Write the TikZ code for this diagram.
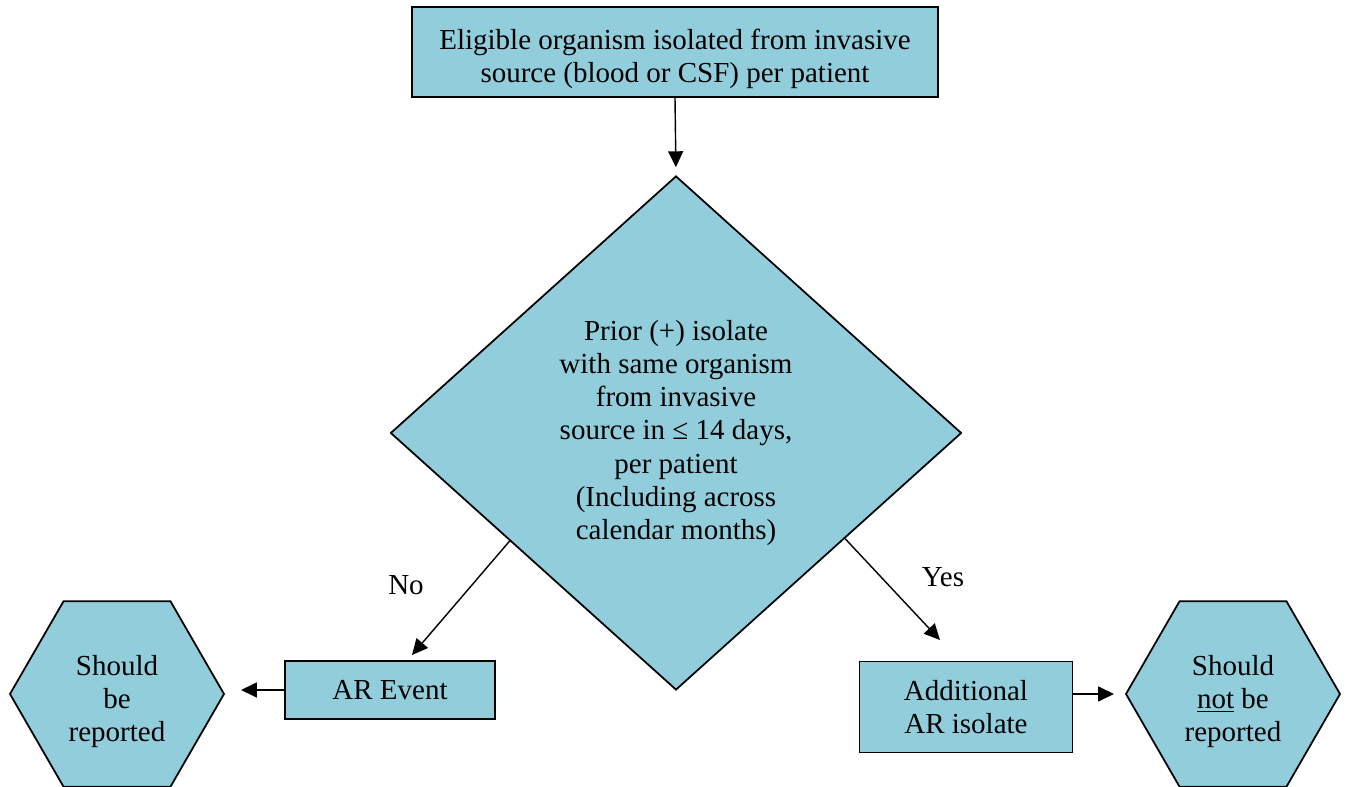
\documentclass[tikz,border=0pt]{standalone}
\usepackage{fontspec}
\setmainfont{Liberation Serif}
\usetikzlibrary{shapes.geometric, arrows.meta}
\definecolor{aquafill}{RGB}{146,205,220}
\begin{document}
\begin{tikzpicture}[every node/.style={font=\fontsize{16.5}{18.8}\selectfont},
    stepbox/.style={draw, line width=1pt, fill=aquafill, align=center, inner sep=0pt},
    choice/.style={diamond, draw, line width=1pt, fill=aquafill, align=center, inner sep=0pt,
        minimum width=11.42cm, minimum height=10.28cm},
    verdict/.style={regular polygon, regular polygon sides=6, draw, line width=1pt, fill=aquafill,
        align=center, inner sep=0pt, minimum size=4.28cm},
    link/.style={line width=0.8pt, -{Triangle[length=9pt, width=8.5pt]}}]
    \useasboundingbox (0,0) rectangle (26.92,-15.74);

    % Start: eligible isolate
    \node[stepbox, minimum width=10.52cm, minimum height=1.8cm] (src) at (13.5,-1.04)
        {\rule{0pt}{19pt}Eligible organism isolated from invasive\\source (blood or CSF) per patient};

    % Decision
    \node[choice] (dec) at (13.52,-8.66)
        {Prior (+) isolate\\with same organism\\from invasive\\source in ≤ 14 days,\\per patient\\(Including across\\calendar months)};

    % Outcomes
    \node[stepbox, minimum width=4.2cm, minimum height=1.16cm] (arev) at (7.8,-13.8) {AR Event};
    \node[stepbox, minimum width=4.26cm, minimum height=1.82cm] (addl) at (19.32,-14.14)
        {Additional\\AR isolate};
    \node[verdict] (rep) at (2.34,-13.88) {\rule{0pt}{20pt}Should\\be\\reported};
    \node[verdict] (norep) at (24.66,-13.88) {\rule{0pt}{20pt}Should\\\underline{not} be\\reported};

    % Branch labels
    \node (no) at (8.12,-11.7) {No};
    \node (yes) at (18.86,-11.54) {Yes};
    \coordinate (noend) at (8.24,-13.1);
    \coordinate (yesend) at (18.8,-12.8);

    % Connectors
    \draw[link, shorten >=0.16cm] (src.south) -- (dec.north);
    \draw[link] (dec.213) -- (noend);
    \draw[link] (dec.-32) -- (yesend);
    \draw[link, shorten >=0.32cm] (arev.west) -- (arev.west -| rep.east);
    \draw[link, shorten >=0.22cm] (addl.east |- norep.west) -- (norep.west);
\end{tikzpicture}
\end{document}
